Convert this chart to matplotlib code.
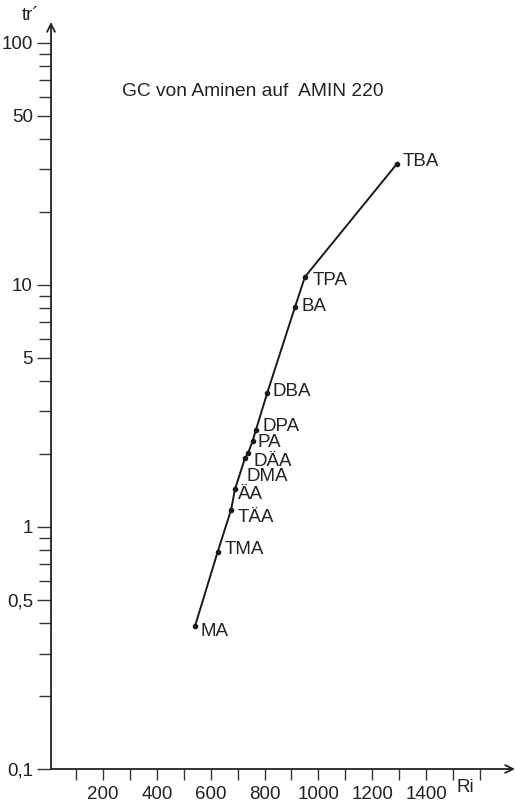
import matplotlib
matplotlib.use('Agg')
import matplotlib.pyplot as plt
from matplotlib.ticker import FixedLocator, NullFormatter, LogLocator

plt.rcParams['font.family'] = ['Liberation Sans', 'DejaVu Sans']

# amine data: retention index Ri and relative retention time tr'
names = ['MA', 'TMA', 'TÄA', 'ÄA', 'DMA', 'DÄA', 'PA', 'DPA', 'DBA', 'BA', 'TPA', 'TBA']
ri = [542, 626, 676, 690, 727, 739, 756, 768, 810, 913, 950, 1291]
tr = [0.39, 0.79, 1.18, 1.43, 1.92, 2.02, 2.27, 2.52, 3.58, 8.1, 10.8, 31.6]

xticks = [100 * i for i in range(1, 17)]
xlabels = ['', '200', '', '400', '', '600', '', '800', '', '1000', '', '1200', '', '1400', '', '']
yticks = [0.1, 0.5, 1, 5, 10, 50, 100]
ylabels = ['0,1', '0,5', '1', '5', '10', '50', '100']

# label offsets in pixels (right, down)
offs = {'MA': (5, 6), 'TMA': (7, -2), 'TÄA': (6, 8), 'ÄA': (3, 5), 'DMA': (2, 18),
        'DÄA': (5, 8), 'PA': (5, 2), 'DPA': (7, -3), 'DBA': (5, -1), 'BA': (7, -1),
        'TPA': (8, 4), 'TBA': (6, -2)}

fs = 13.5
ink = '#222222'

fig = plt.figure(figsize=(5.17, 8.07), dpi=100)
ax = fig.add_axes([51 / 517, (807 - 769) / 807, (515 - 51) / 517, (769 - 22) / 807])
ax.set_yscale('log')
ax.set_xlim(7, 1730)
ax.set_ylim(0.1, 122)

for s in ['top', 'right', 'left', 'bottom']:
    ax.spines[s].set_visible(False)

# axes with arrow heads
ax.annotate('', xy=(1, 0), xytext=(0, 0), xycoords='axes fraction',
            arrowprops=dict(arrowstyle='->', lw=1.3, color=ink, shrinkA=0, shrinkB=0,
                            mutation_scale=14))
ax.annotate('', xy=(0, 1), xytext=(0, 0), xycoords='axes fraction',
            arrowprops=dict(arrowstyle='->', lw=1.3, color=ink, shrinkA=0, shrinkB=0,
                            mutation_scale=14))

ax.xaxis.set_major_locator(FixedLocator(xticks))
ax.set_xticklabels(xlabels)
ax.tick_params(axis='x', direction='out', length=8, width=1.0, color='#333333',
               labelsize=fs, pad=4, labelcolor=ink)

ax.yaxis.set_major_locator(FixedLocator(yticks))
ax.set_yticklabels(ylabels)
ax.yaxis.set_minor_locator(LogLocator(base=10, subs=range(2, 10)))
ax.yaxis.set_minor_formatter(NullFormatter())
ax.tick_params(axis='y', which='major', direction='out', length=10, width=1.0,
               color='#333333', labelsize=fs, pad=3, labelcolor=ink)
ax.tick_params(axis='y', which='minor', direction='out', length=9, width=1.0, color='#333333')

ax.plot(ri, tr, color='#1a1a1a', lw=1.4, marker='o', markersize=3, zorder=3)

for n, x, y in zip(names, ri, tr):
    dx, dy = offs[n]
    ax.annotate(n, (x, y), xytext=(dx, -dy), textcoords='offset pixels',
                ha='left', va='center', fontsize=fs, color=ink)

fig.text(122 / 517, 1 - 91 / 807, 'GC von Aminen auf  AMIN 220', ha='left', va='center',
         fontsize=13.8, color=ink)
fig.text(22 / 517, 1 - 16 / 807, 'tr´', ha='left', va='center', fontsize=fs, color=ink)
fig.text(465 / 517, 1 - 788 / 807, 'Ri', ha='center', va='center', fontsize=fs, color=ink)

fig.savefig('out.png', dpi=100, facecolor='white')
